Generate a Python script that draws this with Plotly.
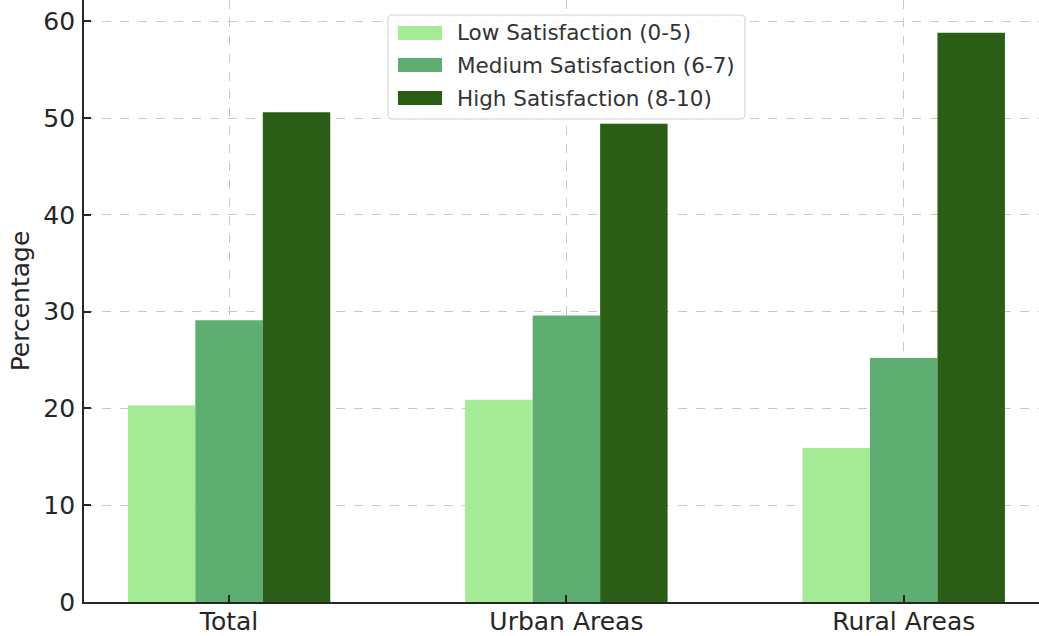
import plotly.graph_objects as go

# Share of respondents by satisfaction level and area type
categories = ["Total", "Urban Areas", "Rural Areas"]
low_satisfaction = [20.3, 20.9, 15.9]
medium_satisfaction = [29.1, 29.6, 25.2]
high_satisfaction = [50.6, 49.4, 58.8]

series_names = ["Low Satisfaction (0-5)", "Medium Satisfaction (6-7)", "High Satisfaction (8-10)"]
series_values = [low_satisfaction, medium_satisfaction, high_satisfaction]
series_colors = ["#a5ea94", "#5ead71", "#2a5e16"]

bar_width = 0.2
fig = go.Figure()
for i, (name, values, color) in enumerate(zip(series_names, series_values, series_colors)):
    offset = (i - 1) * bar_width
    fig.add_trace(go.Bar(
        name=name,
        x=[j + offset for j in range(len(categories))],
        y=values,
        width=bar_width,
        marker=dict(color=color, line=dict(width=0)),
        showlegend=False,
    ))

# Legend box with wide swatches, placed in paper coordinates
box_x0, box_x1, box_y0, box_y1 = 0.3183, 0.6921, 0.8023, 0.975
rx, ry = 0.0045, 0.007
box_path = (
    f"M{box_x0 + rx},{box_y1} L{box_x1 - rx},{box_y1} Q{box_x1},{box_y1} {box_x1},{box_y1 - ry} "
    f"L{box_x1},{box_y0 + ry} Q{box_x1},{box_y0} {box_x1 - rx},{box_y0} "
    f"L{box_x0 + rx},{box_y0} Q{box_x0},{box_y0} {box_x0},{box_y0 + ry} "
    f"L{box_x0},{box_y1 - ry} Q{box_x0},{box_y1} {box_x0 + rx},{box_y1} Z"
)
shapes = [dict(type="path", xref="paper", yref="paper", path=box_path,
               fillcolor="rgba(255,255,255,0.85)", line=dict(color="#d0d0d0", width=1),
               layer="above")]
annotations = []
row_centers = [0.9452, 0.8920, 0.8372]
sw_x0, sw_x1, sw_h = 0.3288, 0.3749, 0.0116
text_x = 0.3890
for name, color, yc in zip(series_names, series_colors, row_centers):
    shapes.append(dict(type="rect", xref="paper", yref="paper",
                       x0=sw_x0, x1=sw_x1, y0=yc - sw_h, y1=yc + sw_h,
                       fillcolor=color, line=dict(width=0), layer="above"))
    annotations.append(dict(xref="paper", yref="paper", x=text_x, y=yc,
                            xanchor="left", yanchor="middle", showarrow=False,
                            text=name, font=dict(size=21.5, color="#333333")))

font = "DejaVu Sans, Verdana, sans-serif"
fig.update_layout(
    width=1039, height=636,
    margin=dict(l=84, r=0, t=0, b=34),
    paper_bgcolor="white", plot_bgcolor="white",
    font=dict(family=font, color="#262626"),
    barmode="overlay",
    shapes=shapes,
    annotations=annotations,
    xaxis=dict(
        range=[-0.43, 2.401],
        tickmode="array", tickvals=list(range(len(categories))), ticktext=categories,
        tickfont=dict(size=25),
        ticks="inside", ticklen=7, tickcolor="#262626", tickwidth=1.5,
        ticklabelstandoff=-4,
        showline=True, linecolor="#262626", linewidth=1.8,
        showgrid=True, gridcolor="#c8c8c8", griddash="dash", gridwidth=1,
        zeroline=False, layer="above traces", automargin=False,
    ),
    yaxis=dict(
        range=[0, 62.19],
        tickvals=[0, 10, 20, 30, 40, 50, 60],
        tickfont=dict(size=25),
        ticks="inside", ticklen=7, tickcolor="#262626", tickwidth=1.5,
        ticklabelstandoff=2,
        showline=True, linecolor="#262626", linewidth=1.8,
        showgrid=True, gridcolor="#c8c8c8", griddash="dash", gridwidth=1,
        zeroline=False, layer="above traces",
        title=dict(text="Percentage", font=dict(size=25), standoff=7),
    ),
)

fig.write_html("out.html")
